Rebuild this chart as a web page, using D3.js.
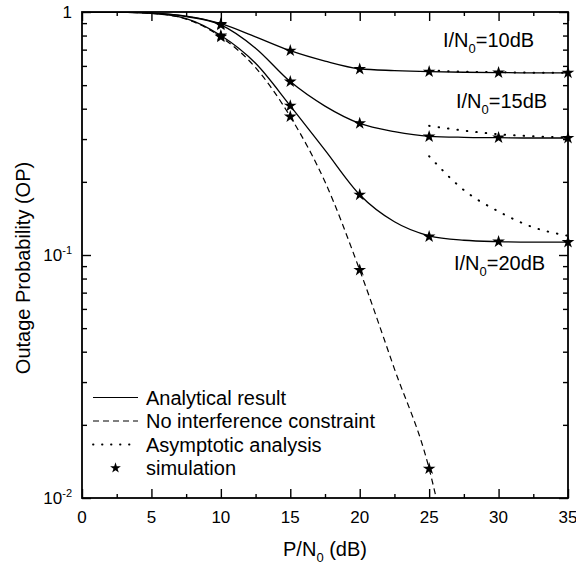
<!DOCTYPE html>
<html>
<head>
<meta charset="utf-8">
<script src="https://cdn.jsdelivr.net/npm/d3@7"></script>
<style>
  body { margin: 0; background: #fff; }
  text { font-family: "Liberation Sans", Arial, sans-serif; fill: #000; }
</style>
</head>
<body>
<div id="chart"></div>
<script>
// data
const pdb = [0, 2.5, 5, 7.5, 10, 12.5, 15, 17.5, 20, 22.5, 25, 27.5, 30, 32.5, 35]
const an10 = [1, 0.998, 0.99, 0.962, 0.895, 0.79, 0.693, 0.628, 0.584, 0.574, 0.568, 0.565, 0.563, 0.562, 0.562]
const an15 = [1, 0.998, 0.99, 0.958, 0.885, 0.71, 0.517, 0.41, 0.348, 0.322, 0.308, 0.305, 0.304, 0.303, 0.303]
const an20 = [1, 0.998, 0.987, 0.94, 0.80, 0.615, 0.411, 0.27, 0.177, 0.137, 0.12, 0.115, 0.1135, 0.113, 0.113]
const noIntX = [0, 2.5, 5, 7.5, 10, 12.5, 15, 17.5, 20, 22.5, 25, 26]
const noInt = [1, 0.998, 0.987, 0.935, 0.79, 0.59, 0.371, 0.2, 0.0867, 0.034, 0.0132, 0.0075]
const asyX = [25, 27.5, 30, 32.5, 35]
const asy10 = [0.575, 0.568, 0.565, 0.563, 0.562]
const asy15 = [0.34, 0.325, 0.314, 0.308, 0.305]
const asy20 = [0.255, 0.185, 0.151, 0.130, 0.120]
const simX = [10, 15, 20, 25, 30, 35]
const sim10 = [0.893, 0.693, 0.582, 0.568, 0.563, 0.562]
const sim15 = [0.885, 0.517, 0.348, 0.307, 0.304, 0.303]
const sim20 = [0.80, 0.411, 0.177, 0.119, 0.1135, 0.113]
const simNoIntX = [10, 15, 20, 25]
const simNoInt = [0.79, 0.371, 0.0867, 0.0132]
const xTicks = [0, 5, 10, 15, 20, 25, 30, 35]
const xMinor = [2.5, 7.5, 12.5, 17.5, 22.5, 27.5, 32.5]
const yMajor = [1, 0.1, 0.01]
const yLabels = [["1", ""], ["10", "-1"], ["10", "-2"]]
const curveLabels = ["10dB", "15dB", "20dB"]
const legendText = ["Analytical result", "No interference constraint", "Asymptotic analysis", "simulation"]

let yMinor = []
for (let e = -2; e < 0; e++) {
    for (let m = 2; m <= 9; m++) yMinor.push(m * Math.pow(10, e))
}

const W = 576, H = 569
const L = 82, R = 568, T = 12, B = 498

let svg = d3.select("#chart").append("svg")
    .attr("width", W)
    .attr("height", H)

let xScale = d3.scaleLinear().domain([0, 35]).range([L, R])
let yScale = d3.scaleLog().domain([0.01, 1]).range([B, T])

svg.append("defs").append("clipPath").attr("id", "plot")
    .append("rect").attr("x", L).attr("y", T).attr("width", R - L).attr("height", B - T)

// axes with inward ticks on all sides
function tickAxis(axis, vals, size, tx, ty) {
    svg.append("g")
        .attr("transform", `translate(${tx},${ty})`)
        .call(axis.tickValues(vals).tickSize(size).tickFormat(""))
        .call(g => g.select(".domain").remove())
        .call(g => g.selectAll("line").attr("stroke", "#000").attr("stroke-width", 1.4))
}
tickAxis(d3.axisBottom(xScale), xTicks, -9, 0, B)
tickAxis(d3.axisBottom(xScale), xMinor, -4, 0, B)
tickAxis(d3.axisTop(xScale), xTicks, -9, 0, T)
tickAxis(d3.axisTop(xScale), xMinor, -4, 0, T)
tickAxis(d3.axisLeft(yScale), yMajor, -9, L, 0)
tickAxis(d3.axisLeft(yScale), yMinor, -5, L, 0)
tickAxis(d3.axisRight(yScale), yMajor, -9, R, 0)
tickAxis(d3.axisRight(yScale), yMinor, -5, R, 0)

svg.append("rect")
    .attr("x", L).attr("y", T).attr("width", R - L).attr("height", B - T)
    .attr("fill", "none").attr("stroke", "#000").attr("stroke-width", 1.8)

// x tick labels
svg.selectAll(".xlab").data(xTicks).enter().append("text")
    .attr("x", d => xScale(d))
    .attr("y", B + 25)
    .attr("text-anchor", "middle")
    .attr("font-size", 17)
    .text(d => d)

// y tick labels
yMajor.forEach((v, i) => {
    let t = svg.append("text")
        .attr("x", 72)
        .attr("y", yScale(v) + 6)
        .attr("text-anchor", "end")
        .attr("font-size", 17)
    t.append("tspan").text(yLabels[i][0])
    if (yLabels[i][1]) {
        t.append("tspan").attr("font-size", 11).attr("dy", -7).text(yLabels[i][1])
    }
})

// axis titles
let xt = svg.append("text")
    .attr("x", (L + R) / 2)
    .attr("y", 556)
    .attr("text-anchor", "middle")
    .attr("font-size", 20)
xt.append("tspan").text("P/N")
xt.append("tspan").attr("font-size", 13).attr("dy", 6).text("0")
xt.append("tspan").attr("dy", -6).text(" (dB)")

svg.append("text")
    .attr("transform", "translate(30,268) rotate(-90)")
    .attr("text-anchor", "middle")
    .attr("font-size", 20)
    .text("Outage Probability (OP)")

// curves
let plot = svg.append("g").attr("clip-path", "url(#plot)")
let line = d3.line()
    .x(d => xScale(d[0]))
    .y(d => yScale(d[1]))
    .curve(d3.curveMonotoneX)

function drawCurve(xs, ys, dash, width) {
    plot.append("path")
        .datum(xs.map((x, i) => [x, ys[i]]))
        .attr("d", line)
        .attr("fill", "none")
        .attr("stroke", "#000")
        .attr("stroke-width", width)
        .attr("stroke-linecap", dash === "dot" ? "round" : "butt")
        .attr("stroke-dasharray", dash === "dot" ? "0.5,9" : dash)
}
drawCurve(pdb, an10, null, 1.3)
drawCurve(pdb, an15, null, 1.3)
drawCurve(pdb, an20, null, 1.3)
drawCurve(noIntX, noInt, "6,4", 1.2)
drawCurve(asyX, asy10, "dot", 2)
drawCurve(asyX, asy15, "dot", 2)
drawCurve(asyX, asy20, "dot", 2)

// simulation stars
let star = d3.symbol().type(d3.symbolStar).size(50)
function drawStars(xs, ys) {
    svg.selectAll(null).data(xs.map((x, i) => [x, ys[i]])).enter().append("path")
        .attr("d", star)
        .attr("transform", d => `translate(${xScale(d[0])},${yScale(d[1])})`)
        .attr("fill", "#000")
}
drawStars(simX, sim10)
drawStars(simX, sim15)
drawStars(simX, sim20)
drawStars(simNoIntX, simNoInt)

// I/N0 labels
const labelPos = [[443, 47], [456, 108], [454, 270]]
curveLabels.forEach((c, i) => {
    let t = svg.append("text")
        .attr("x", labelPos[i][0])
        .attr("y", labelPos[i][1])
        .attr("font-size", 20)
    t.append("tspan").text("I/N")
    t.append("tspan").attr("font-size", 13).attr("dy", 6).text("0")
    t.append("tspan").attr("dy", -6).text("=" + c)
})

// legend
const legY = [397.5, 421, 444.5, 468]
const legDash = [null, "6,4", "dot", "star"]
legendText.forEach((txt, i) => {
    if (legDash[i] === "star") {
        svg.append("path")
            .attr("d", d3.symbol().type(d3.symbolStar).size(36))
            .attr("transform", `translate(115.5,${legY[i]})`)
            .attr("fill", "#000")
    } else {
        svg.append("line")
            .attr("x1", 93).attr("x2", 138)
            .attr("y1", legY[i]).attr("y2", legY[i])
            .attr("stroke", "#000")
            .attr("stroke-width", legDash[i] === "dot" ? 1.8 : 1.2)
            .attr("stroke-linecap", legDash[i] === "dot" ? "round" : "butt")
            .attr("stroke-dasharray", legDash[i] === "dot" ? "0.5,8.5" : legDash[i])
    }
    svg.append("text")
        .attr("x", 146)
        .attr("y", legY[i] + 7)
        .attr("font-size", 20)
        .text(txt)
})
</script>
</body>
</html>
